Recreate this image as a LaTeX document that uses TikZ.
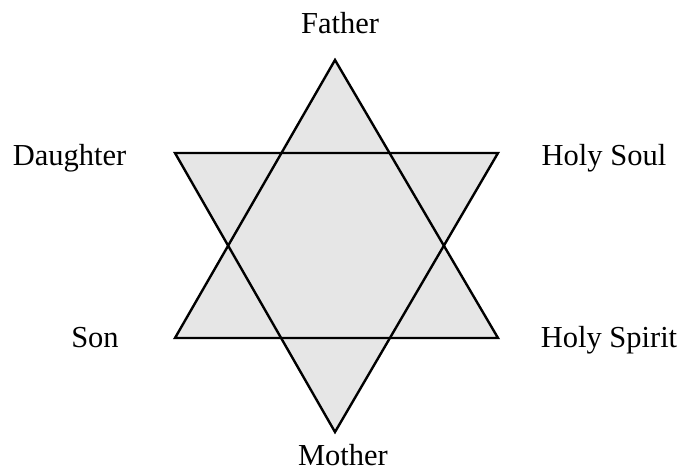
\documentclass[tikz,border=0pt]{standalone}
\usepackage{fontspec}
\setmainfont{Liberation Serif}
\definecolor{StarGray}{HTML}{E6E6E6}
\tikzset{
  lbl/.style={anchor=base, inner sep=0pt, font=\fontsize{30.5}{36}\selectfont},
  edge/.style={draw=black, line width=2.4pt, line join=miter}
}
\begin{document}
\begin{tikzpicture}[x=1pt, y=1pt]
        \useasboundingbox (0,0) rectangle (682,471);
        % corners of the two triangles
        \coordinate (top) at (335,411);
        \coordinate (bot) at (335,39);
        \coordinate (ul) at (175,318);
        \coordinate (ur) at (498,318);
        \coordinate (ll) at (175,133);
        \coordinate (lr) at (498,133);
        \fill[StarGray] (top) -- (ll) -- (lr) -- cycle;
        \fill[StarGray] (ul) -- (ur) -- (bot) -- cycle;
        \draw[edge] (top) -- (ll) -- (lr) -- cycle;
        \draw[edge] (ul) -- (ur) -- (bot) -- cycle;
        % names
        \node[lbl] (father) at (340,437) {Father};
        \node[lbl] (daughter) at (69.5,305) {Daughter};
        \node[lbl] (soul) at (604,305) {Holy Soul};
        \node[lbl] (son) at (95,123) {Son};
        \node[lbl] (spirit) at (609,123) {Holy Spirit};
        \node[lbl] (mother) at (343,6) {Mother};
\end{tikzpicture}
\end{document}
